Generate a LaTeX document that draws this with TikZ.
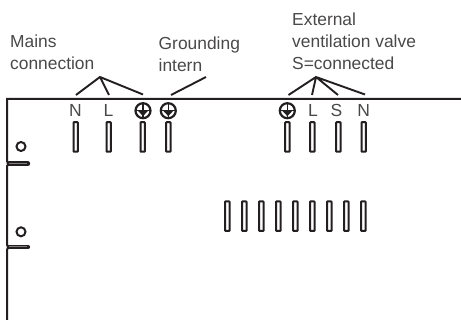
\documentclass[tikz,border=0pt]{standalone}
\usepackage{fontspec}
\setmainfont{Liberation Sans}
\definecolor{ink}{HTML}{231F20}
\definecolor{txt}{HTML}{4A4849}
\tikzset{
  x=1pt,y=-1pt,
  wall/.style={draw=ink,line width=2pt},
  lead/.style={draw=ink,line width=1.9pt},
  slot/.style={draw=ink,line width=2pt,fill=white,rounded corners=0.6pt,minimum width=4.4pt,minimum height=29.5pt,inner sep=0pt,outer sep=0pt},
  hole/.style={circle,draw=ink,line width=2pt,minimum size=9pt,inner sep=0pt},
  label/.style={font=\fontsize{17.4}{22}\selectfont,text=txt,anchor=base west,align=left,inner sep=0pt},
  term/.style={font=\fontsize{17.5}{18}\selectfont,text=txt,anchor=base,inner sep=0pt},
  earth/.style={circle,draw=ink,line width=2.2pt,minimum size=15pt,inner sep=0pt,
    path picture={
      \draw[ink,line width=1.5pt] (path picture bounding box.center) ++(0,-7) -- ++(0,14);
      \draw[ink,line width=1.3pt] (path picture bounding box.center) ++(-7,0) -- ++(14,0);
      \fill[ink] (path picture bounding box.center) ++(-4.8,0.4) -- ++(9.6,0) -- ++(-4.8,5) -- cycle;
    }},
}
\begin{document}
\begin{tikzpicture}
\useasboundingbox (0,0) rectangle (461,320);
% housing
\draw[wall] (461,99) -- (7,99) -- (7,161.5) -- (9,163.7);
\draw[wall] (9,163.7) -- (7,166) -- (7,245) -- (9,247);
\draw[wall] (9,247) -- (7,249.5) -- (7,320);
\draw[ink,line width=4.8pt,line cap=round] (9,163.7) -- (27.8,163.7);
\draw[txt!70,line width=1pt] (9,163.7) -- (27,163.7);
\draw[ink,line width=4.8pt,line cap=round] (9,247) -- (27.8,247);
\draw[txt!70,line width=1pt] (9,247) -- (27,247);
\node[hole] (h1) at (21,146.5) {};
\node[hole] (h2) at (21,231.8) {};
% slots
\foreach \n/\px in {a/75.7,b/108.7,c/142.7,d/168.3,e/287.3,f/312.3,g/338.3,h/363.7}
  \node[slot] (s\n) at (\px,137) {};
\foreach \n/\px in {1/227.3,2/244.3,3/261.3,4/278.3,5/295.3,6/312.3,7/329.3,8/346.3,9/363.3}
  \node[slot] (r\n) at (\px,216.2) {};
% terminals
\node[term] (tN) at (75.5,117) {N};
\node[term] (tL) at (108.5,117) {L};
\node[earth] (tE1) at (143,110.7) {};
\node[earth] (tE2) at (168.3,110.7) {};
\node[earth] (tE3) at (287.3,110.7) {};
\node[term] (tL2) at (313,117) {L};
\node[term] (tS) at (336.5,117) {S};
\node[term] (tN2) at (363.7,117) {N};
% labels
\node[label] (mains) at (10,70) {Mains\\connection};
\node[label] (ground) at (158.5,72) {Grounding\\intern};
\node[label] (ext) at (292,70) {External\\ventilation valve\\S=connected};
% leaders
\coordinate (ma) at (100,77);
\coordinate (ga) at (206,77);
\coordinate (ea) at (316,77);
\coordinate (m1) at (76,95);
\coordinate (m2) at (109,95);
\coordinate (m3) at (143,94.5);
\coordinate (g1) at (171,95);
\coordinate (e1) at (288.5,95);
\coordinate (e2) at (312,95);
\coordinate (e3) at (338,95);
\coordinate (e4) at (365,94.5);
\draw[lead] (m1) -- (ma) -- (m3) (ma) -- (m2);
\draw[lead] (ga) -- (g1);
\draw[lead] (e1) -- (ea) -- (e4) (ea) -- (e2) (ea) -- (e3);
\end{tikzpicture}
\end{document}
